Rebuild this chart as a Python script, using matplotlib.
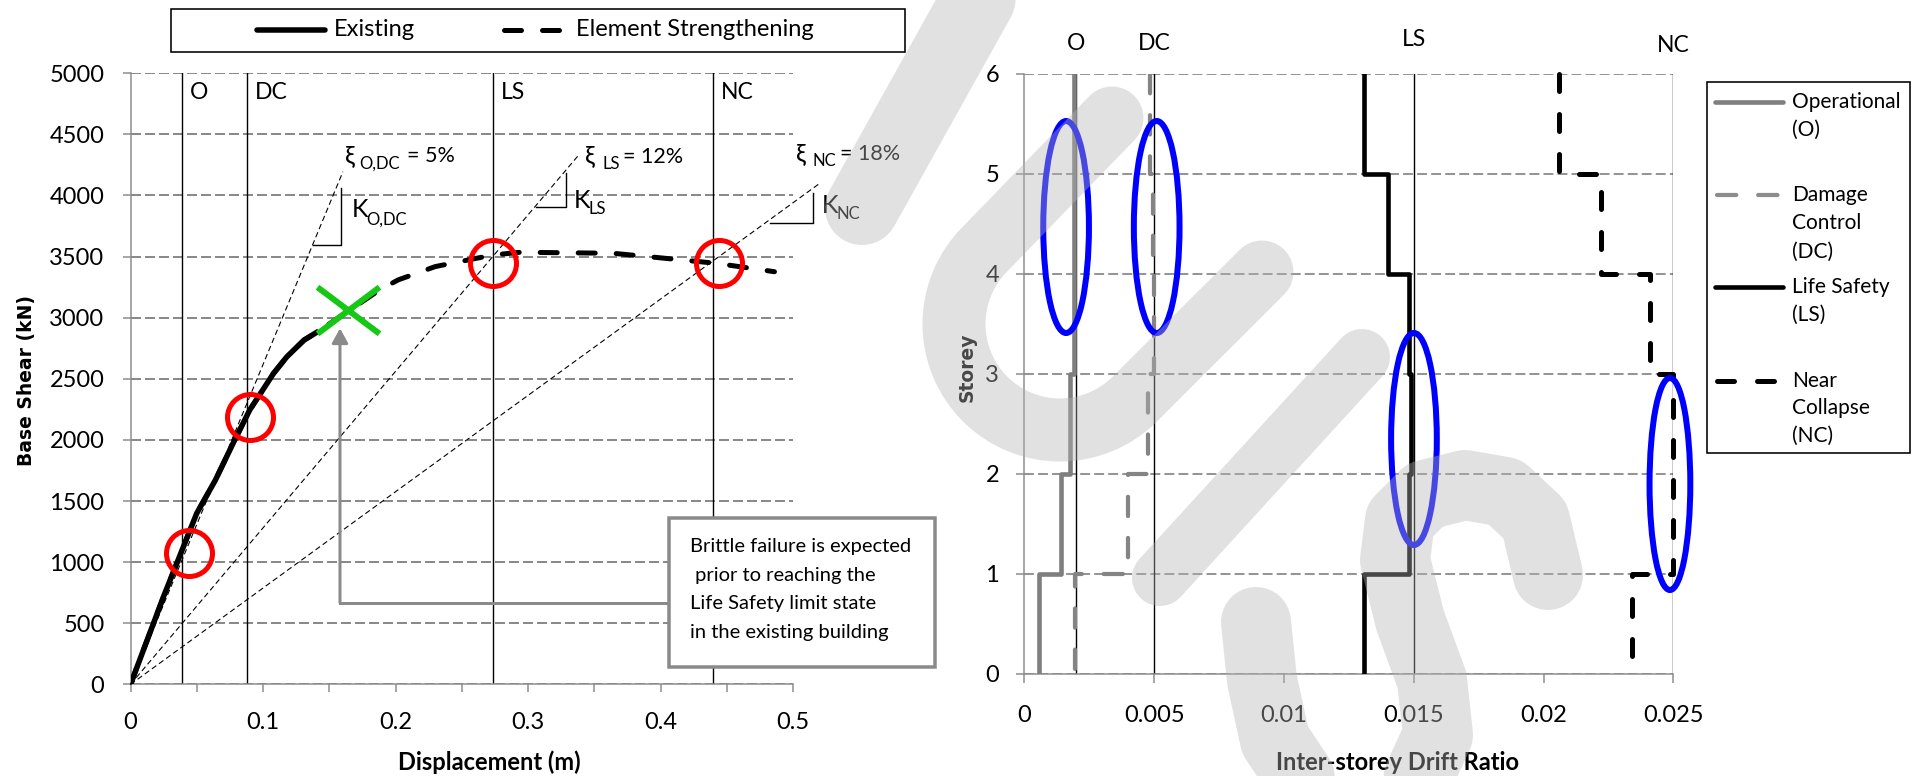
import numpy as np
import matplotlib
matplotlib.use('Agg')
import matplotlib.pyplot as plt
from matplotlib.patches import Ellipse, Rectangle, PathPatch
from matplotlib.path import Path

plt.rcParams['font.family'] = ['Lato', 'DejaVu Sans']

W, H = 1913, 776

# ---------------- pushover curves (left) ----------------
disp_existing = [0, 0.025, 0.05, 0.064, 0.078, 0.09, 0.108, 0.118, 0.131, 0.142]
shear_existing = [0, 720, 1400, 1670, 1985, 2245, 2545, 2680, 2817, 2890]
disp_strength = disp_existing + [0.188, 0.202, 0.23, 0.2736, 0.294, 0.364, 0.391, 0.442, 0.486]
shear_strength = shear_existing + [3227, 3309, 3418, 3513, 3535, 3527, 3499, 3445, 3376]

limit_names = ['O', 'DC', 'LS', 'NC']
limit_disp = [0.0387, 0.088, 0.2736, 0.4396]
circle_disp = [0.0444, 0.0902, 0.2733, 0.4442]
circle_shear = [1077, 2190, 3451, 3451]
brittle_disp, brittle_shear = 0.1644, 3063

secant_end_disp = [0.1603, 0.3383, 0.5208]
secant_end_shear = [4194, 4331, 4104]
tri_x0 = [0.1381, 0.3059, 0.4824]
tri_x1 = [0.1589, 0.329, 0.5153]
tri_y0 = [3597, 3908, 3772]
tri_y1 = [4061, 4181, 4018]

arrow_x = 0.1581
arrow_y0, arrow_y1 = 668, 2913
box_left_disp = 0.4064

disp_ticks = [0, 0.1, 0.2, 0.3, 0.4, 0.5]
disp_ticklabels = ['0', '0.1', '0.2', '0.3', '0.4', '0.5']
shear_ticks = list(range(0, 5001, 500))

# ---------------- drift profiles (right) ----------------
storeys = [0, 1, 2, 3, 4, 5, 6]
drift_O = [0.00058, 0.0014, 0.00176, 0.0019, 0.0019, 0.0019]
drift_DC = [0.00195, 0.0040, 0.00478, 0.0050, 0.00497, 0.00484]
drift_LS = [0.0131, 0.0148, 0.0149, 0.0148, 0.0140, 0.0131]
drift_NC = [0.0234, 0.0250, 0.0250, 0.0241, 0.0222, 0.0206]
drift_limits = [0.002, 0.005, 0.015, 0.025]
ell_x = [0.00161, 0.0051, 0.01501, 0.02487]
ell_y = [4.47, 4.47, 2.35, 1.90]
ell_w = [0.00176, 0.00176, 0.00176, 0.00157]
ell_h = 2.12
drift_ticks = [0, 0.005, 0.01, 0.015, 0.02, 0.025]
drift_ticklabels = ['0', '0.005', '0.01', '0.015', '0.02', '0.025']

GRID = '#8a8a8a'
AX = '#8c8c8c'
px = 0.72  # points per pixel at dpi 100


def stairs(d):
    # storey profile drawn from the roof down, like the source spreadsheet
    x = np.repeat(d, 2)
    y = np.repeat(storeys, 2)[1:-1]
    return x[::-1], y[::-1]


fig = plt.figure(figsize=(W / 100, H / 100), dpi=100)

# ================= left: pushover =================
axL = fig.add_axes([130.5 / W, 1 - 684.4 / H, (793 - 130.5) / W, (684.4 - 73.2) / H])
axL.set_xlim(0, 0.5)
axL.set_ylim(0, 5000)
axL.set_xticks(disp_ticks)
axL.set_xticklabels(disp_ticklabels)
axL.set_xticks(np.arange(0, 0.51, 0.05), minor=True)
axL.set_yticks(shear_ticks)
axL.grid(axis='y', color=GRID, lw=2 * px, linestyle=(0, (5, 2)))
axL.set_axisbelow(True)

for x in limit_disp:
    axL.axvline(x, color='black', lw=1.4 * px, zorder=2)
for x, name in zip(limit_disp, limit_names):
    axL.text(x + 0.0058, 4840, name, fontsize=16.5, va='center', ha='left')

for xe, ye in zip(secant_end_disp, secant_end_shear):
    axL.plot([0, xe], [0, ye], color='black', lw=1.1 * px, linestyle=(0, (5, 3)),
             clip_on=False, zorder=3)
for a, b, c, d in zip(tri_x0, tri_x1, tri_y0, tri_y1):
    axL.plot([a, b, b], [c, c, d], color='black', lw=1.4 * px, clip_on=False, zorder=3)

axL.plot(disp_strength, shear_strength, color='black', lw=5 * px,
         linestyle=(0, (3.4, 4.2)), dash_capstyle='round', zorder=4)
axL.plot(disp_existing, shear_existing, color='black', lw=5.5 * px,
         solid_capstyle='butt', zorder=5)

axL.plot(circle_disp, circle_shear, linestyle='none', marker='o', ms=46 * px,
         mfc='none', mec='#ff0000', mew=5 * px, zorder=6)

xmark = Path([(-1, -0.75), (1, 0.75), (-1, 0.75), (1, -0.75)],
             [Path.MOVETO, Path.LINETO, Path.MOVETO, Path.LINETO])
axL.plot([brittle_disp], [brittle_shear], linestyle='none', marker=xmark, ms=62 * px,
         mec='#14c814', mew=6 * px, zorder=7)

axL.plot([box_left_disp, arrow_x], [arrow_y0, arrow_y0], color='#8a8a8a', lw=3 * px,
         clip_on=False, zorder=3)
axL.annotate('', xy=(arrow_x, arrow_y1), xytext=(arrow_x, arrow_y0),
             arrowprops=dict(arrowstyle='-|>,head_length=0.4,head_width=0.22',
                             mutation_scale=22, color='#8a8a8a', lw=3 * px,
                             shrinkA=0, shrinkB=0), zorder=3)

for s in ['top', 'right']:
    axL.spines[s].set_visible(False)
for s in ['left', 'bottom']:
    axL.spines[s].set_color(AX)
    axL.spines[s].set_linewidth(1.5 * px)
axL.tick_params(which='both', direction='out', length=8 * px, width=1.5 * px, color=AX,
                labelsize=17)
axL.tick_params(axis='y', pad=13)
axL.tick_params(axis='x', pad=14)

# ================= right: drift profiles =================
axR = fig.add_axes([1024.3 / W, 1 - 674 / H, (1673.3 - 1024.3) / W, (674 - 74) / H])
axR.set_xlim(0, 0.025)
axR.set_ylim(0, 6)
axR.set_xticks(drift_ticks)
axR.set_xticklabels(drift_ticklabels)
axR.set_yticks(storeys)
axR.grid(axis='y', color=GRID, lw=1.8 * px, linestyle=(0, (5.5, 2.3)))
axR.set_axisbelow(True)

for x in drift_limits:
    axR.axvline(x, color='black', lw=1.4 * px, zorder=2)
label_y = [6.31, 6.31, 6.34, 6.29]
for x, name, ly in zip(drift_limits, limit_names, label_y):
    axR.text(x, ly, name, fontsize=16.5, ha='center', va='center', clip_on=False)

xs, ys = stairs(drift_O)
axR.plot(xs, ys, color='#7f7f7f', lw=4.6 * px, zorder=3)
xs, ys = stairs(drift_DC)
axR.plot(xs, ys, color='#848484', lw=4.2 * px, linestyle=(0, (4.6, 5.2)),
         dash_capstyle='round', zorder=3)
xs, ys = stairs(drift_LS)
axR.plot(xs, ys, color='black', lw=4.6 * px, zorder=3)
xs, ys = stairs(drift_NC)
axR.plot(xs, ys, color='black', lw=5 * px, linestyle=(0, (3.4, 4.6)),
         dash_capstyle='round', zorder=3, clip_on=False)

for cx, cy, w in zip(ell_x, ell_y, ell_w):
    axR.add_patch(Ellipse((cx, cy), w, ell_h, fill=False, ec='#0000ff', lw=6 * px,
                          zorder=5, clip_on=False))

for s in ['top', 'right']:
    axR.spines[s].set_visible(False)
for s in ['left', 'bottom']:
    axR.spines[s].set_color(AX)
    axR.spines[s].set_linewidth(1.5 * px)
axR.tick_params(direction='out', length=8.5 * px, width=1.5 * px, color=AX, labelsize=17)
axR.tick_params(axis='y', pad=12)
axR.tick_params(axis='x', pad=16)

# axis titles
fig.text(27 / W, 1 - 380 / H, 'Base Shear (kN)', rotation=90, family='DejaVu Sans',
         weight='bold', fontsize=13.5, ha='center', va='center')
fig.text(967 / W, 1 - 367 / H, 'Storey', rotation=90, family='DejaVu Sans',
         weight='bold', fontsize=13.5, ha='center', va='center')
fig.text(489 / W, 1 - 762 / H, 'Displacement (m)', weight='bold', fontsize=17,
         ha='center', va='center')
fig.text(1398 / W, 1 - 762 / H, 'Inter-storey Drift Ratio', weight='bold', fontsize=17,
         ha='center', va='center')

# ================= overlay in pixel units =================
ov = fig.add_axes([0, 0, 1, 1], zorder=10)
ov.set_xlim(0, W)
ov.set_ylim(H, 0)
ov.axis('off')
ov.patch.set_alpha(0)


def sublabel(x, y, main, sub, rest, xs_, ys_, xr, yr, size=18):
    ov.text(x, y, main, fontsize=size, va='baseline', ha='left')
    ov.text(xs_, ys_, sub, fontsize=12, va='baseline', ha='left')
    if rest:
        ov.text(xr, yr, rest, fontsize=15.5, va='baseline', ha='left')


sublabel(345, 163, '\u03be', 'O,DC', '= 5%', 359, 169, 407, 162)
sublabel(585, 163, '\u03be', 'LS', '= 12%', 603, 169, 623, 163)
sublabel(796, 161, '\u03be', 'NC', '= 18%', 813, 166, 840, 160)
sublabel(352, 217, 'K', 'O,DC', None, 366, 225, 0, 0)
sublabel(574, 208, 'K', 'LS', None, 588, 214, 0, 0)
sublabel(822, 213, 'K', 'NC', None, 836, 219, 0, 0)

# brittle failure note
ov.add_patch(Rectangle((669, 518), 266, 149, fc='white', ec='#8a8a8a', lw=3.5 * px))
note = ['Brittle failure is expected', ' prior to reaching the',
        'Life Safety limit state', 'in the existing building']
for i, line in enumerate(note):
    ov.text(690, 552 + i * 28.7, line, fontsize=14.5, va='baseline', ha='left')

# left legend
ov.add_patch(Rectangle((171, 9), 734, 43, fc='white', ec='black', lw=1.6 * px))
ov.plot([257, 325], [30, 30], color='black', lw=5.5 * px, solid_capstyle='round')
ov.text(334, 30, 'Existing', fontsize=17, va='center', ha='left')
ov.plot([503.5, 560.5], [30, 30], color='black', lw=5 * px,
        linestyle=(0, (3.4, 4.2)), dash_capstyle='round')
ov.text(576, 30, 'Element Strengthening', fontsize=17, va='center', ha='left')

# right legend
ov.add_patch(Rectangle((1706.7, 82), 203, 371, fc='white', ec='black', lw=1.6 * px))
ov.plot([1715, 1783], [101.7, 101.7], color='#7f7f7f', lw=4.6 * px, solid_capstyle='round')
ov.plot([1717, 1781], [195, 195], color='#8c8c8c', lw=4.2 * px,
        linestyle=(0, (4.6, 5.2)), dash_capstyle='round')
ov.plot([1715, 1783], [286.7, 286.7], color='black', lw=4.6 * px, solid_capstyle='round')
ov.plot([1717, 1781], [380.7, 380.7], color='black', lw=5 * px,
        linestyle=(0, (3.4, 4.6)), dash_capstyle='round')
leg_lines = [('Operational', 101.7), ('(O)', 130), ('Damage', 195), ('Control', 223.3),
             ('(DC)', 251.7), ('Life Safety', 286.7), ('(LS)', 315), ('Near', 380.7),
             ('Collapse', 408.3), ('(NC)', 435.7)]
for txt, y in leg_lines:
    ov.text(1792, y, txt, fontsize=15, va='center', ha='left')

# watermark strokes (drawn over everything)
WM = dict(color='#b4b4b4', alpha=0.40, solid_capstyle='round', solid_joinstyle='round',
          zorder=30)
ov.plot([862, 992], [208, -25], lw=74 * px, **WM)
ov.plot([1160, 1362], [578, 357], lw=56 * px, **WM)

arc = Path.arc(45, 225)
cx, cy, R = 1060, 324, 106
av = arc.vertices[::-1] * R + np.array([cx, cy])
u_verts = [(1112, 118)] + [tuple(v) for v in av] + [(1262, 272)]
u_codes = [Path.MOVETO, Path.LINETO] + list(arc.codes[1:]) + [Path.LINETO]
ov.add_patch(PathPatch(Path(u_verts, u_codes), fill=False, ec='#b4b4b4', alpha=0.40,
                       lw=63 * px, capstyle='round', joinstyle='round', zorder=30))

s_pts = [(1548, 575), (1535, 520), (1505, 492), (1465, 485), (1425, 495), (1400, 520),
         (1395, 560), (1410, 620), (1432, 680), (1438, 735), (1415, 785), (1360, 805),
         (1305, 785), (1275, 740), (1262, 680), (1256, 622)]
s_codes = [Path.MOVETO] + [Path.LINETO] * (len(s_pts) - 1)
ov.add_patch(PathPatch(Path(s_pts, s_codes), fill=False, ec='#b4b4b4', alpha=0.40,
                       lw=70 * px, capstyle='round', joinstyle='round', zorder=30))

fig.savefig('out.png', dpi=100)
